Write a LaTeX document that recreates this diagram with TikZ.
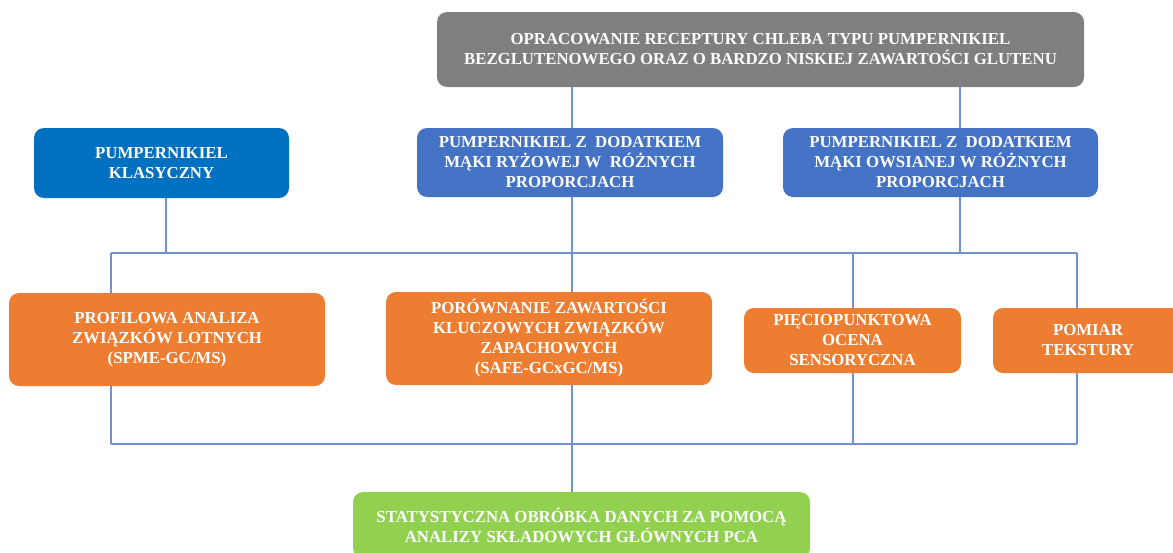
\documentclass[tikz,border=0pt]{standalone}
\usepackage{fontspec}
\setmainfont{Liberation Serif}
\usetikzlibrary{backgrounds}
\definecolor{boxgray}{RGB}{127,127,127}
\definecolor{deepblue}{RGB}{0,112,192}
\definecolor{midblue}{RGB}{68,114,196}
\definecolor{boxorange}{RGB}{237,125,49}
\definecolor{boxgreen}{RGB}{146,208,80}
\definecolor{linkblue}{RGB}{112,146,212}
\begin{document}
\begin{tikzpicture}[x=1pt,y=-1pt,
  card/.style={rectangle, rounded corners=10pt, inner sep=0pt, text=white,
    align=center, font=\fontsize{16.8}{20}\selectfont\bfseries},
  link/.style={draw=linkblue, line width=1.1pt}]
\useasboundingbox (0,0) rectangle (1173,552);
\clip (0,0) rectangle (1173,552);

% main goal
\node[card, fill=boxgray, minimum width=647pt, minimum height=75pt] (goal) at (760.5,49.5)
  {OPRACOWANIE RECEPTURY CHLEBA TYPU PUMPERNIKIEL\\BEZGLUTENOWEGO ORAZ O BARDZO NISKIEJ ZAWARTOŚCI GLUTENU};

% bread variants
\node[card, fill=deepblue, minimum width=255pt, minimum height=70pt] (classic) at (161.5,163)
  {PUMPERNIKIEL\\KLASYCZNY};
\node[card, fill=midblue, minimum width=306pt, minimum height=69pt] (rice) at (570,162.5)
  {PUMPERNIKIEL Z~ DODATKIEM\\MĄKI RYŻOWEJ W~ RÓŻNYCH\\PROPORCJACH};
\node[card, fill=midblue, minimum width=315pt, minimum height=69pt] (oat) at (940.5,162.5)
  {PUMPERNIKIEL Z~ DODATKIEM\\MĄKI OWSIANEJ W RÓŻNYCH\\PROPORCJACH};

% analyses
\node[card, fill=boxorange, minimum width=316pt, minimum height=93pt] (profile) at (167,339.5)
  {PROFILOWA ANALIZA\\ZWIĄZKÓW LOTNYCH\\(SPME-GC/MS)};
\node[card, fill=boxorange, minimum width=326pt, minimum height=93pt] (aroma) at (549,338.5)
  {PORÓWNANIE ZAWARTOŚCI\\KLUCZOWYCH ZWIĄZKÓW\\ZAPACHOWYCH\\(SAFE-GCxGC/MS)};
\node[card, fill=boxorange, minimum width=217pt, minimum height=65pt] (sensory) at (852.5,340.5)
  {PIĘCIOPUNKTOWA\\OCENA\\SENSORYCZNA};
\node[card, fill=boxorange, minimum width=190pt, minimum height=65pt] (texture) at (1088,340.5)
  {POMIAR\\TEKSTURY};

% statistics
\node[card, fill=boxgreen, minimum width=457pt, minimum height=66pt] (pca) at (581.5,525)
  {STATYSTYCZNA OBRÓBKA DANYCH ZA POMOCĄ\\ANALIZY SKŁADOWYCH GŁÓWNYCH PCA};

% bus lines and drop columns
\coordinate (busL) at (111,253);
\coordinate (busR) at (1077,253);
\coordinate (sumL) at (111,444);
\coordinate (sumR) at (1077,444);
\coordinate (colMid) at (572,0);
\coordinate (colOat) at (960,0);
\coordinate (colClassic) at (166,0);
\coordinate (colSens) at (853,0);

\begin{pgfonlayer}{background}
  \draw[link] (goal.south -| colMid) -- (rice.north -| colMid);
  \draw[link] (rice.south -| colMid) -- (aroma.north -| colMid);
  \draw[link] (aroma.south -| colMid) -- (pca.north -| colMid);
  \draw[link] (goal.south -| colOat) -- (oat.north -| colOat);
  \draw[link] (oat.south -| colOat) -- (busR -| colOat);
  \draw[link] (classic.south -| colClassic) -- (busL -| colClassic);
  \draw[link] (busL) -- (busR);
  \draw[link] (sumL) -- (sumR);
  \draw[link] (busL) -- (sumL);
  \draw[link] (busR) -- (sumR);
  \draw[link] (busL -| colSens) -- (sumL -| colSens);
\end{pgfonlayer}
\end{tikzpicture}
\end{document}
